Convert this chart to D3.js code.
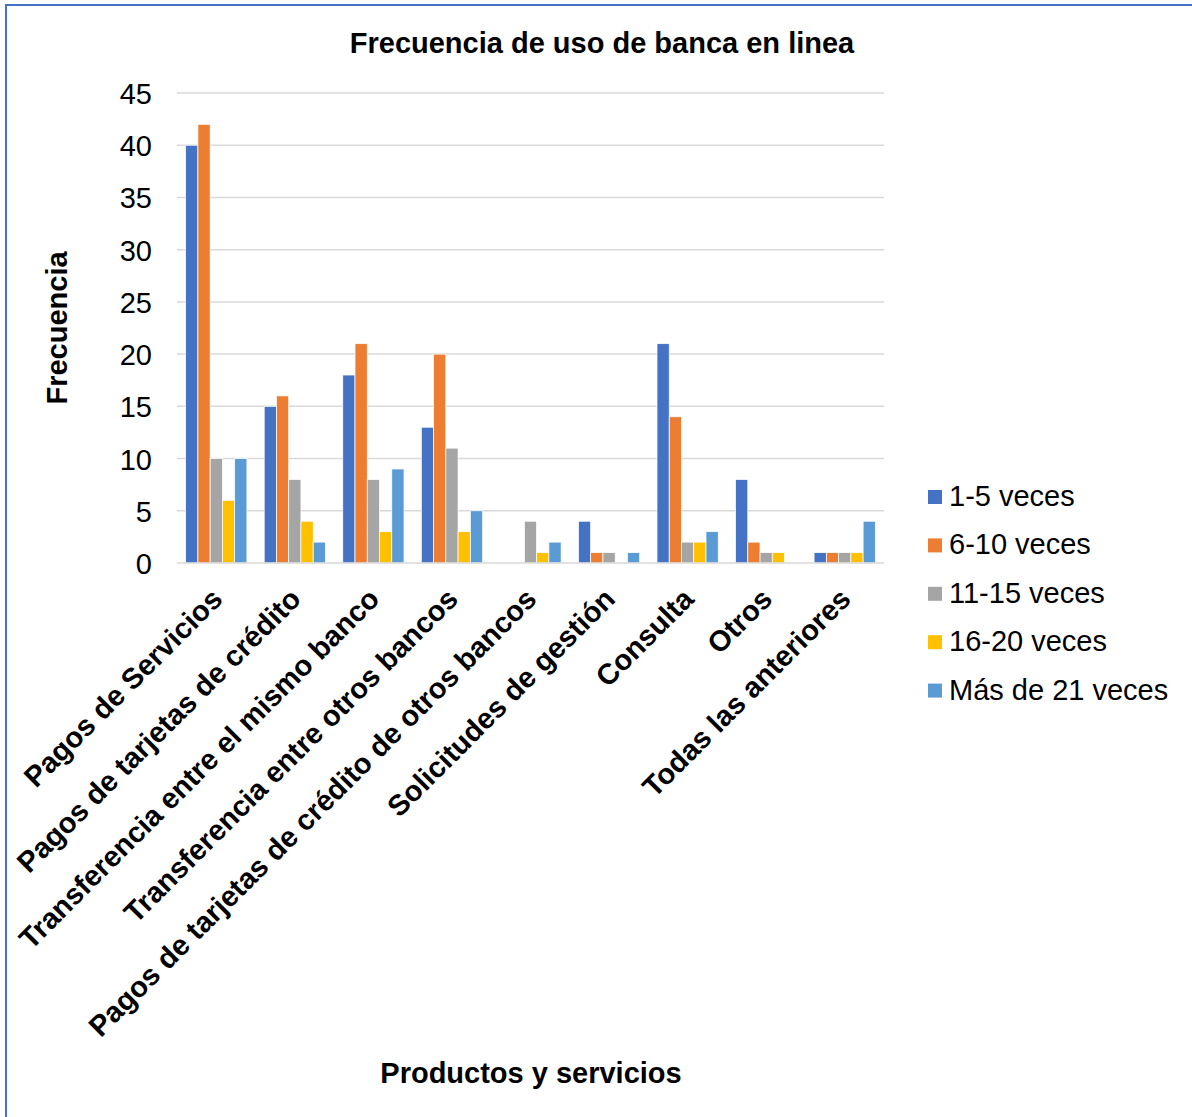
<!DOCTYPE html>
<html>
<head>
<meta charset="utf-8">
<script src="https://cdn.jsdelivr.net/npm/d3@7"></script>
<style>
  html, body { margin: 0; padding: 0; background: #fff; }
  svg { display: block; font-family: "Liberation Sans", Arial, sans-serif; }
</style>
</head>
<body>
<svg id="chart" width="1192" height="1117"></svg>
<script>
const categories = [
  "Pagos de Servicios",
  "Pagos de tarjetas de crédito",
  "Transferencia entre el mismo banco",
  "Transferencia entre otros bancos",
  "Pagos de tarjetas de crédito de otros bancos",
  "Solicitudes de gestión",
  "Consulta",
  "Otros",
  "Todas las anteriores"
];
const seriesNames = ["1-5 veces", "6-10 veces", "11-15 veces", "16-20 veces", "Más de 21 veces"];
const s1_5   = [40, 15, 18, 13, 0, 4, 21, 8, 1];
const s6_10  = [42, 16, 21, 20, 0, 1, 14, 2, 1];
const s11_15 = [10, 8, 8, 11, 4, 1, 2, 1, 1];
const s16_20 = [6, 4, 3, 3, 1, 0, 2, 1, 1];
const s21    = [10, 2, 9, 5, 2, 1, 3, 0, 4];
const yTicks = [0, 5, 10, 15, 20, 25, 30, 35, 40, 45];
const chartTitle = "Frecuencia de uso de banca en linea";
const yTitle = "Frecuencia";
const xTitle = "Productos y servicios";

const seriesValues = [s1_5, s6_10, s11_15, s16_20, s21];
const colors = ["#4472C4", "#ED7D31", "#A5A5A5", "#FFC000", "#5B9BD5"];

const svg = d3.select("#chart");
const W = 1192, H = 1117;
const plot = { left: 177, right: 884, top: 93, bottom: 563 };

// outer border (left and top visible)
svg.append("line").attr("x1", 6).attr("x2", 6).attr("y1", 5).attr("y2", H)
  .attr("stroke", "#4472C4").attr("stroke-width", 2);
svg.append("line").attr("x1", 5).attr("x2", W).attr("y1", 5).attr("y2", 5)
  .attr("stroke", "#4472C4").attr("stroke-width", 2);

const x0 = d3.scaleBand().domain(categories).range([plot.left, plot.right])
  .paddingInner(0.22).paddingOuter(0.11);
const x1 = d3.scaleBand().domain(seriesNames).range([0, x0.bandwidth()]);
const y = d3.scaleLinear().domain([0, 45]).range([plot.bottom, plot.top]);

// gridlines
svg.append("g").selectAll("line").data(yTicks.filter(d => d > 0)).join("line")
  .attr("x1", plot.left).attr("x2", plot.right)
  .attr("y1", d => y(d)).attr("y2", d => y(d))
  .attr("stroke", "#d9d9d9").attr("stroke-width", 1.5);

// y axis labels
const yAxis = d3.axisLeft(y).tickValues(yTicks).tickSize(0).tickPadding(0);
const gy = svg.append("g").attr("transform", `translate(152,0)`).call(yAxis);
gy.select(".domain").remove();
gy.selectAll("text").attr("font-size", 29).attr("fill", "#000")
  .attr("font-family", "'Liberation Sans', Arial, sans-serif").attr("dy", "0.36em");

// bars
const groups = svg.append("g").selectAll("g").data(categories).join("g")
  .attr("transform", d => `translate(${x0(d)},0)`);
groups.selectAll("rect")
  .data((c, i) => seriesNames.map((s, j) => ({ s, v: seriesValues[j][i], j })))
  .join("rect")
  .attr("x", d => x1(d.s))
  .attr("width", x1.bandwidth())
  .attr("y", d => y(d.v))
  .attr("height", d => y(0) - y(d.v))
  .attr("fill", d => colors[d.j])
  .attr("stroke", "#fff").attr("stroke-width", 0.75);

// baseline
svg.append("line").attr("x1", plot.left).attr("x2", plot.right)
  .attr("y1", y(0)).attr("y2", y(0)).attr("stroke", "#d9d9d9").attr("stroke-width", 1.5);

// x category labels
const xAxis = d3.axisBottom(x0).tickSize(0);
const gx = svg.append("g").attr("transform", `translate(0,${plot.bottom})`).call(xAxis);
gx.select(".domain").remove();
gx.selectAll("text")
  .attr("font-size", 29).attr("font-weight", "bold").attr("fill", "#000")
  .attr("font-family", "'Liberation Sans', Arial, sans-serif")
  .attr("text-anchor", "end")
  .attr("y", 0).attr("dy", "0.72em")
  .attr("transform", "translate(-7,23) rotate(-45)");

// title
svg.append("text").attr("x", 602).attr("y", 53).attr("text-anchor", "middle")
  .attr("font-size", 29).attr("font-weight", "bold").text(chartTitle);

// y title
svg.append("text").attr("transform", "translate(67,328) rotate(-90)")
  .attr("text-anchor", "middle").attr("font-size", 29).attr("font-weight", "bold").text(yTitle);

// x title
svg.append("text").attr("x", 531).attr("y", 1083).attr("text-anchor", "middle")
  .attr("font-size", 29).attr("font-weight", "bold").text(xTitle);

// legend
const lg = svg.append("g").selectAll("g").data(seriesNames).join("g")
  .attr("transform", (d, i) => `translate(928,${506 + i * 48.4})`);
lg.append("rect").attr("x", 0).attr("y", -16).attr("width", 14).attr("height", 14)
  .attr("fill", (d, i) => colors[i]);
lg.append("text").attr("x", 21).attr("y", 0).attr("font-size", 29).text(d => d);
</script>
</body>
</html>
